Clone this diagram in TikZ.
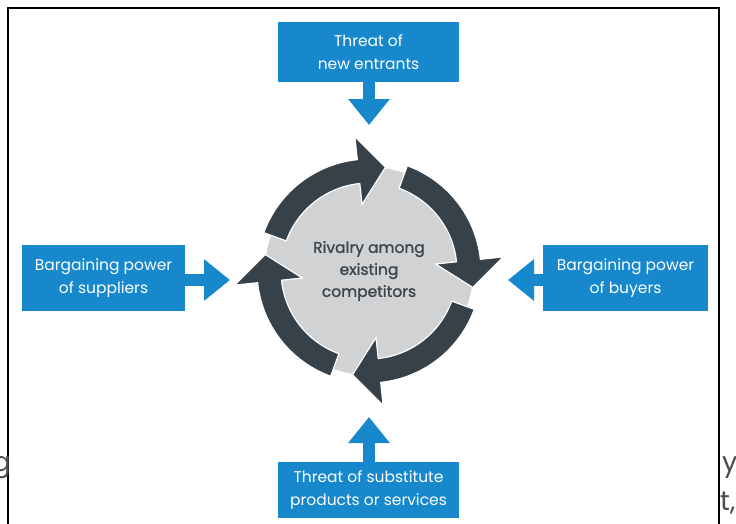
\documentclass[tikz,border=0pt]{standalone}
\usepackage{fontspec}
\setmainfont{Poppins}
\newfontfamily\circfont{Poppins}[FakeBold=1.2]
\usetikzlibrary{arrows.meta}
\definecolor{pblue}{RGB}{22,136,203}
\definecolor{pdark}{RGB}{55,65,73}
\definecolor{pgray}{RGB}{208,210,212}
\definecolor{ptext}{RGB}{60,68,76}
\newcommand\cycarrow[2]{%
  \filldraw[cycar] plot[domain=#1:#2, samples=40] (\x:112pt)
    -- (#2:135pt) -- ({#2-15}:105pt) -- (#2:67pt) -- (#2:88pt)
    -- plot[domain=#2:#1, samples=40] (\x:88pt) -- cycle;}
\begin{document}
\begin{tikzpicture}[x=1pt,y=-1pt,
  forcebox/.style={fill=pblue, text=white, align=center, inner sep=0pt,
    font=\fontsize{15.5}{23}\selectfont},
  pushar/.style={draw=pblue, line width=12pt, -{Triangle[width=40pt,length=26pt]}},
  cycar/.style={fill=pdark, draw=white, line width=1.2pt, line join=miter},
  stray/.style={font=\fontsize{27}{27}\selectfont, text=black!70, inner sep=0pt}]
\useasboundingbox (0,0) rectangle (736,523);
\begin{scope}
\clip (0,0) rectangle (736,523);
\fill[white] (0,0) rectangle (736,523);
\draw[line width=2pt] (8,540) |- (719,8) -- (719,540);
% boxes
\node[forcebox, minimum width=181pt, minimum height=60pt] (ent) at (368.5,52) {Threat of\\new entrants};
\node[forcebox, minimum width=181pt, minimum height=56pt] (sub) at (368.5,490) {Threat of substitute\\products or services};
\node[forcebox, minimum width=163pt, minimum height=66pt] (sup) at (103.5,278) {Bargaining power\\of suppliers};
\node[forcebox, minimum width=165pt, minimum height=66pt] (buy) at (625.5,278) {Bargaining power\\of buyers};
% push arrows
\coordinate (tE) at (369,125);
\coordinate (tS) at (369,417);
\coordinate (tL) at (230,280);
\coordinate (tR) at (508,280);
\draw[pushar] (ent.south -| tE) -- (tE);
\draw[pushar] (sub.north -| tS) -- (tS);
\draw[pushar] (sup.east |- tL) -- (tL);
\draw[pushar] (buy.west |- tR) -- (tR);
% rivalry circle
\coordinate (C) at (369,271);
\fill[pgray] (C) circle[radius=104pt];
\begin{scope}[shift={(C)}]
\cycarrow{160}{96}
\cycarrow{70}{6}
\cycarrow{-20}{-84}
\cycarrow{-110}{-174}
\end{scope}
\node[text=ptext, align=center, font=\circfont\fontsize{15.5}{22}\selectfont] (riv) at (C) {Rivalry among\\existing\\competitors};
% stray text
\node[stray, anchor=base east] (sg) at (11,471) {g};
\node[stray, anchor=base west] (sy) at (722,471) {y};
\node[stray, anchor=base west] (st) at (720,510) {t,};
\end{scope}
\end{tikzpicture}
\end{document}
